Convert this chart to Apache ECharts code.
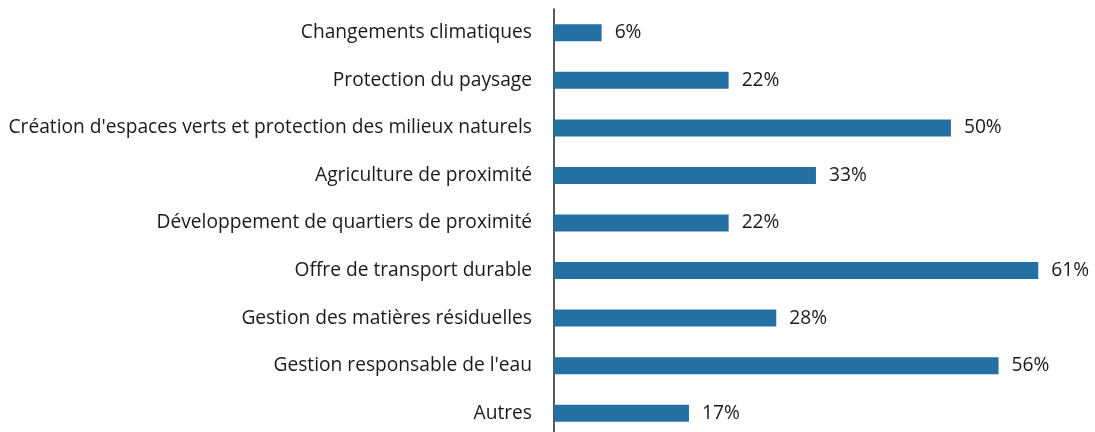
<!DOCTYPE html>
<html>
<head>
<meta charset="utf-8">
<script src="https://cdn.jsdelivr.net/npm/echarts@6/dist/echarts.min.js"></script>
<style>
  html, body { margin: 0; padding: 0; background: #fff; overflow: hidden; }
  #chart { width: 1095px; height: 440px; }
</style>
</head>
<body>
<div id="chart"></div>
<script>
const categories = [
  'Changements climatiques',
  'Protection du paysage',
  "Création d'espaces verts et protection des milieux naturels",
  'Agriculture de proximité',
  'Développement de quartiers de proximité',
  'Offre de transport durable',
  'Gestion des matières résiduelles',
  "Gestion responsable de l'eau",
  'Autres'
];
const values = [6, 22, 50, 33, 22, 61, 28, 56, 17];

const BAR = '#2470a4';
const TEXT = '#1a1a1a';

// chart box is a bit taller than the window: the bottom band runs past the crop
const chart = echarts.init(document.getElementById('chart'));
chart.setOption({
  animation: false,
  grid: { left: 554, top: 9, right: 25, bottom: 3, containLabel: false },
  xAxis: {
    type: 'value',
    min: 0,
    max: 65,
    show: false
  },
  yAxis: {
    type: 'category',
    data: categories,
    inverse: true,
    axisLine: { show: true, lineStyle: { color: '#222', width: 1.5 } },
    axisTick: { show: false },
    axisLabel: { color: TEXT, fontSize: 19.2, fontFamily: 'Open Sans', margin: 22 }
  },
  series: [
    {
      type: 'bar',
      data: values,
      barWidth: 17,
      itemStyle: { color: BAR },
      label: {
        show: true,
        position: 'right',
        distance: 13,
        color: TEXT,
        fontSize: 19.2,
        fontFamily: 'Open Sans',
        formatter: p => p.value + '%'
      }
    }
  ]
});
</script>
</body>
</html>
